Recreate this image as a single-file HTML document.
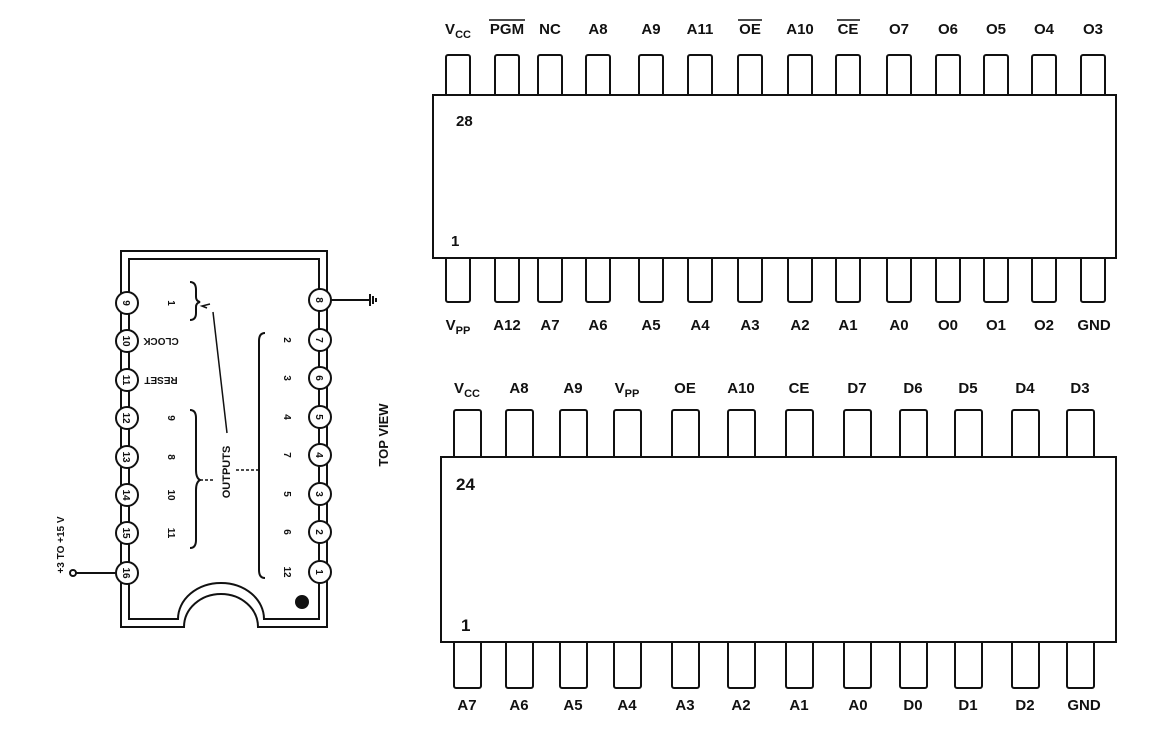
<!DOCTYPE html>
<html><head><meta charset="utf-8"><style>
body{margin:0;background:#fff}
svg{display:block}
text{font-family:"Liberation Sans",Arial,sans-serif;font-weight:bold;fill:#111}
</style></head><body>
<svg width="1166" height="754" viewBox="0 0 1166 754" xmlns="http://www.w3.org/2000/svg">
<g stroke="#111" stroke-width="2" fill="#fff">
<g>
<rect x="446" y="55" width="24" height="42" rx="2"/><rect x="495" y="55" width="24" height="42" rx="2"/><rect x="538" y="55" width="24" height="42" rx="2"/><rect x="586" y="55" width="24" height="42" rx="2"/><rect x="639" y="55" width="24" height="42" rx="2"/><rect x="688" y="55" width="24" height="42" rx="2"/><rect x="738" y="55" width="24" height="42" rx="2"/><rect x="788" y="55" width="24" height="42" rx="2"/><rect x="836" y="55" width="24" height="42" rx="2"/><rect x="887" y="55" width="24" height="42" rx="2"/><rect x="936" y="55" width="24" height="42" rx="2"/><rect x="984" y="55" width="24" height="42" rx="2"/><rect x="1032" y="55" width="24" height="42" rx="2"/><rect x="1081" y="55" width="24" height="42" rx="2"/>
<rect x="446" y="256" width="24" height="46" rx="2"/><rect x="495" y="256" width="24" height="46" rx="2"/><rect x="538" y="256" width="24" height="46" rx="2"/><rect x="586" y="256" width="24" height="46" rx="2"/><rect x="639" y="256" width="24" height="46" rx="2"/><rect x="688" y="256" width="24" height="46" rx="2"/><rect x="738" y="256" width="24" height="46" rx="2"/><rect x="788" y="256" width="24" height="46" rx="2"/><rect x="836" y="256" width="24" height="46" rx="2"/><rect x="887" y="256" width="24" height="46" rx="2"/><rect x="936" y="256" width="24" height="46" rx="2"/><rect x="984" y="256" width="24" height="46" rx="2"/><rect x="1032" y="256" width="24" height="46" rx="2"/><rect x="1081" y="256" width="24" height="46" rx="2"/>
<rect x="433" y="95" width="683" height="163"/>
</g>
<g>
<rect x="454" y="410" width="27" height="49" rx="2"/><rect x="506" y="410" width="27" height="49" rx="2"/><rect x="560" y="410" width="27" height="49" rx="2"/><rect x="614" y="410" width="27" height="49" rx="2"/><rect x="672" y="410" width="27" height="49" rx="2"/><rect x="728" y="410" width="27" height="49" rx="2"/><rect x="786" y="410" width="27" height="49" rx="2"/><rect x="844" y="410" width="27" height="49" rx="2"/><rect x="900" y="410" width="27" height="49" rx="2"/><rect x="955" y="410" width="27" height="49" rx="2"/><rect x="1012" y="410" width="27" height="49" rx="2"/><rect x="1067" y="410" width="27" height="49" rx="2"/>
<rect x="454" y="640" width="27" height="48" rx="2"/><rect x="506" y="640" width="27" height="48" rx="2"/><rect x="560" y="640" width="27" height="48" rx="2"/><rect x="614" y="640" width="27" height="48" rx="2"/><rect x="672" y="640" width="27" height="48" rx="2"/><rect x="728" y="640" width="27" height="48" rx="2"/><rect x="786" y="640" width="27" height="48" rx="2"/><rect x="844" y="640" width="27" height="48" rx="2"/><rect x="900" y="640" width="27" height="48" rx="2"/><rect x="955" y="640" width="27" height="48" rx="2"/><rect x="1012" y="640" width="27" height="48" rx="2"/><rect x="1067" y="640" width="27" height="48" rx="2"/>
<rect x="441" y="457" width="675" height="185"/>
</g>
<path d="M121 251 H327 V627 H258 A37 33 0 0 0 184 627 H121 Z"/>
<path d="M129 259 H319 V619 H264 A43 36 0 0 0 178 619 H129 Z" fill="none"/>
<g fill="#fff">
<circle cx="127" cy="303" r="11"/><circle cx="127" cy="341" r="11"/><circle cx="127" cy="380" r="11"/><circle cx="127" cy="418" r="11"/><circle cx="127" cy="457" r="11"/><circle cx="127" cy="495" r="11"/><circle cx="127" cy="533" r="11"/><circle cx="127" cy="573" r="11"/>
<circle cx="320" cy="300" r="11"/><circle cx="320" cy="340" r="11"/><circle cx="320" cy="378" r="11"/><circle cx="320" cy="417" r="11"/><circle cx="320" cy="455" r="11"/><circle cx="320" cy="494" r="11"/><circle cx="320" cy="532" r="11"/><circle cx="320" cy="572" r="11"/>
</g>
<circle cx="302" cy="602" r="6" fill="#111"/>
<line x1="331" y1="300" x2="370" y2="300"/><line x1="370" y1="294" x2="370" y2="306"/><line x1="373" y1="296" x2="373" y2="304"/><line x1="376" y1="298" x2="376" y2="302"/>
<line x1="116" y1="573" x2="76" y2="573"/><circle cx="73" cy="573" r="3"/>
<path d="M190 282 Q196 282 196 290 V297 Q196 301 200 302 Q196 303 196 307 V313 Q196 320 190 320" fill="none"/>
<path d="M190 410 Q196 410 196 418 V470 Q196 478 200 480 Q196 482 196 490 V540 Q196 548 190 548" fill="none"/>
<path d="M265 333 Q259 333 259 341 V570 Q259 578 265 578" fill="none"/>
<path d="M227 433 L213 312 M207 308 L202 306 L210 304" fill="none" stroke-width="1.5"/>
<line x1="200" y1="480" x2="214" y2="480" stroke-dasharray="3 2" stroke-width="1.5"/>
<line x1="236" y1="470" x2="259" y2="470" stroke-dasharray="3 2" stroke-width="1.5"/>
</g>
<g font-size="15" text-anchor="middle">
<text x="458" y="34">V<tspan font-size="11" dy="4">CC</tspan></text>
<text x="507" y="34">PGM</text><line x1="489" y1="20" x2="525" y2="20" stroke="#111" stroke-width="1.5"/>
<text x="550" y="34">NC</text><text x="598" y="34">A8</text><text x="651" y="34">A9</text><text x="700" y="34">A11</text>
<text x="750" y="34">OE</text><line x1="738" y1="20" x2="762" y2="20" stroke="#111" stroke-width="1.5"/>
<text x="800" y="34">A10</text>
<text x="848" y="34">CE</text><line x1="837" y1="20" x2="860" y2="20" stroke="#111" stroke-width="1.5"/>
<text x="899" y="34">O7</text><text x="948" y="34">O6</text><text x="996" y="34">O5</text><text x="1044" y="34">O4</text><text x="1093" y="34">O3</text>
<text x="458" y="330">V<tspan font-size="11" dy="4">PP</tspan></text>
<text x="507" y="330">A12</text><text x="550" y="330">A7</text><text x="598" y="330">A6</text><text x="651" y="330">A5</text><text x="700" y="330">A4</text><text x="750" y="330">A3</text><text x="800" y="330">A2</text><text x="848" y="330">A1</text><text x="899" y="330">A0</text><text x="948" y="330">O0</text><text x="996" y="330">O1</text><text x="1044" y="330">O2</text><text x="1094" y="330">GND</text>
<text x="456" y="126" text-anchor="start" font-size="15">28</text>
<text x="451" y="246" text-anchor="start" font-size="15">1</text>
<text x="467" y="393">V<tspan font-size="11" dy="4">CC</tspan></text>
<text x="519" y="393">A8</text><text x="573" y="393">A9</text>
<text x="627" y="393">V<tspan font-size="11" dy="4">PP</tspan></text>
<text x="685" y="393">OE</text><text x="741" y="393">A10</text><text x="799" y="393">CE</text><text x="857" y="393">D7</text><text x="913" y="393">D6</text><text x="968" y="393">D5</text><text x="1025" y="393">D4</text><text x="1080" y="393">D3</text>
<text x="467" y="710">A7</text><text x="519" y="710">A6</text><text x="573" y="710">A5</text><text x="627" y="710">A4</text><text x="685" y="710">A3</text><text x="741" y="710">A2</text><text x="799" y="710">A1</text><text x="858" y="710">A0</text><text x="913" y="710">D0</text><text x="968" y="710">D1</text><text x="1025" y="710">D2</text><text x="1084" y="710">GND</text>
<text x="456" y="490" text-anchor="start" font-size="17">24</text>
<text x="461" y="631" text-anchor="start" font-size="17">1</text>
</g>
<g font-size="10" text-anchor="middle" font-family="Liberation Serif,serif">
<g font-weight="bold">
<text transform="translate(127,303) rotate(90)" dy="4">9</text>
<text transform="translate(127,341) rotate(90)" dy="4">10</text>
<text transform="translate(127,380) rotate(90)" dy="4">11</text>
<text transform="translate(127,418) rotate(90)" dy="4">12</text>
<text transform="translate(127,457) rotate(90)" dy="4">13</text>
<text transform="translate(127,495) rotate(90)" dy="4">14</text>
<text transform="translate(127,533) rotate(90)" dy="4">15</text>
<text transform="translate(127,573) rotate(90)" dy="4">16</text>
<text transform="translate(320,300) rotate(90)" dy="4">8</text>
<text transform="translate(320,340) rotate(90)" dy="4">7</text>
<text transform="translate(320,378) rotate(90)" dy="4">6</text>
<text transform="translate(320,417) rotate(90)" dy="4">5</text>
<text transform="translate(320,455) rotate(90)" dy="4">4</text>
<text transform="translate(320,494) rotate(90)" dy="4">3</text>
<text transform="translate(320,532) rotate(90)" dy="4">2</text>
<text transform="translate(320,572) rotate(90)" dy="4">1</text>
<text transform="translate(172,303) rotate(90)" dy="4">1</text>
<text transform="translate(172,418) rotate(90)" dy="4">9</text>
<text transform="translate(172,457) rotate(90)" dy="4">8</text>
<text transform="translate(172,495) rotate(90)" dy="4">10</text>
<text transform="translate(172,533) rotate(90)" dy="4">11</text>
<text transform="translate(288,340) rotate(90)" dy="4">2</text>
<text transform="translate(288,378) rotate(90)" dy="4">3</text>
<text transform="translate(288,417) rotate(90)" dy="4">4</text>
<text transform="translate(288,455) rotate(90)" dy="4">7</text>
<text transform="translate(288,494) rotate(90)" dy="4">5</text>
<text transform="translate(288,532) rotate(90)" dy="4">6</text>
<text transform="translate(288,572) rotate(90)" dy="4">12</text>
</g>
<text transform="translate(161,342) rotate(180)" dy="4" font-size="10" font-family="Liberation Sans,sans-serif" font-weight="normal">CLOCK</text>
<text transform="translate(161,381) rotate(180)" dy="4" font-size="10" font-family="Liberation Sans,sans-serif" font-weight="normal">RESET</text>
<text transform="translate(226,472) rotate(-90)" dy="4" font-size="11" font-family="Liberation Sans,sans-serif" font-weight="normal">OUTPUTS</text>
<text transform="translate(60,545) rotate(-90)" dy="4" font-size="10" font-family="Liberation Sans,sans-serif" font-weight="bold">+3 TO +15 V</text>
<text transform="translate(384,435) rotate(-90)" dy="4" font-size="13" font-family="Liberation Sans,sans-serif" font-weight="bold">TOP VIEW</text>
</g>
</svg>
</body></html>
